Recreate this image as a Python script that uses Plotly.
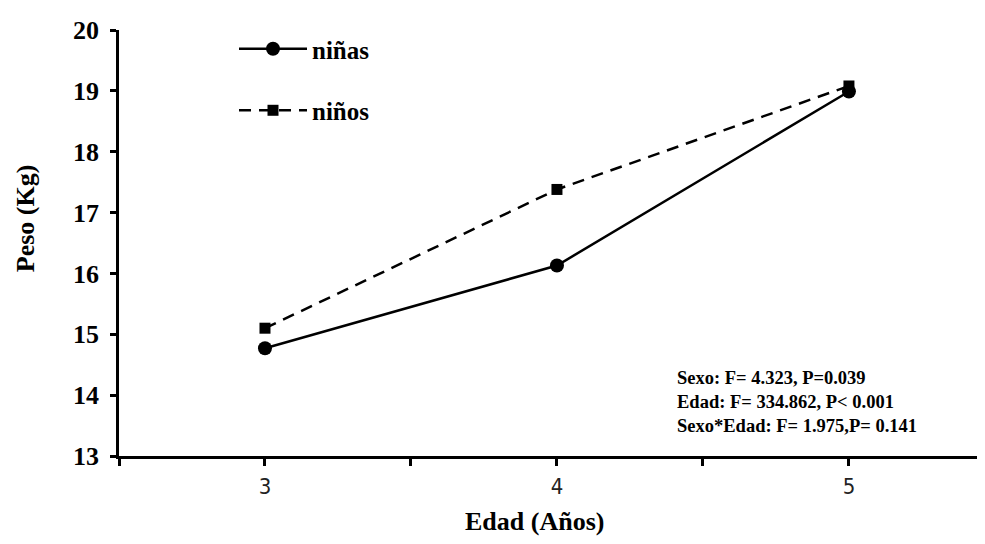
import plotly.graph_objects as go

edad = [3, 4, 5]
ninas = [14.77, 16.13, 18.99]
ninos = [15.10, 17.38, 19.08]
x_tickvals = [2.5, 3, 3.5, 4, 4.5, 5, 5.5]
x_ticktext = ["", "3", "", "4", "", "5", ""]
y_tickvals = [13, 14, 15, 16, 17, 18, 19, 20]
stats_lines = ["Sexo: F= 4.323, P=0.039",
               "Edad: F= 334.862, P< 0.001",
               "Sexo*Edad: F= 1.975,P= 0.141"]

serif = "Liberation Serif, Times New Roman, Times, serif"
narrow = "Liberation Sans Narrow, DejaVu Sans Condensed, Liberation Sans, sans-serif"

# page body has an 8px margin; plot area targeted at x 119..985, y 26..456 in the page
L, T, PW, PH = 111, 18, 866, 430

def px_x(p):
    return (p - 119) / PW

def px_y(p):
    return (456 - p) / PH

fig = go.Figure()
fig.add_trace(go.Scatter(
    x=edad, y=ninas, mode="lines+markers", name="niñas",
    line=dict(color="black", width=2.5),
    marker=dict(symbol="circle", size=14, color="black"),
    legendgroup="a"))
fig.add_trace(go.Scatter(
    x=edad, y=ninos, mode="lines+markers", name="niños",
    line=dict(color="black", width=2.5, dash="12px,8px"),
    marker=dict(symbol="square", size=11, color="black"),
    legendgroup="b"))

fig.add_annotation(
    x=px_x(675), y=px_y(401), xref="paper", yref="paper",
    xanchor="left", yanchor="middle", align="left", showarrow=False,
    text="<br>".join(stats_lines),
    font=dict(family=serif, size=18.5, color="black", weight="bold"))

fig.add_annotation(
    x=px_x(534), y=px_y(522), xref="paper", yref="paper",
    xanchor="center", yanchor="middle", showarrow=False,
    text="Edad (Años)", font=dict(family=serif, size=26, color="black", weight="bold"))

fig.add_annotation(
    x=px_x(25), y=px_y(216), xref="paper", yref="paper", textangle=-90,
    xanchor="center", yanchor="middle", showarrow=False,
    text="Peso (Kg)", font=dict(family=serif, size=26, color="black", weight="bold"))

fig.update_layout(
    width=985, height=544,
    margin=dict(l=L, r=985 - L - PW, t=T, b=544 - T - PH),
    paper_bgcolor="white", plot_bgcolor="white",
    showlegend=True,
    legend=dict(x=px_x(234), y=px_y(22), xanchor="left", yanchor="top",
                font=dict(family=serif, size=25, color="black", weight="bold"),
                itemwidth=68, tracegroupgap=26, bgcolor="rgba(0,0,0,0)"),
    xaxis=dict(range=[2.5, 5.466], tickvals=x_tickvals, ticktext=x_ticktext,
               showgrid=False, zeroline=False, showline=True, linecolor="black", linewidth=2.5,
               ticks="outside", ticklen=7, tickwidth=2.5, tickcolor="black",
               ticklabelstandoff=2,
               tickfont=dict(family=narrow, size=22, color="#222")),
    yaxis=dict(range=[13, 20], tickvals=y_tickvals,
               showgrid=False, zeroline=False, showline=True, linecolor="black", linewidth=2.5,
               ticks="outside", ticklen=6, tickwidth=2.5, tickcolor="black",
               ticklabelstandoff=6,
               tickfont=dict(family=serif, size=26, color="black", weight="bold")),
)

fig.write_html("out.html")
